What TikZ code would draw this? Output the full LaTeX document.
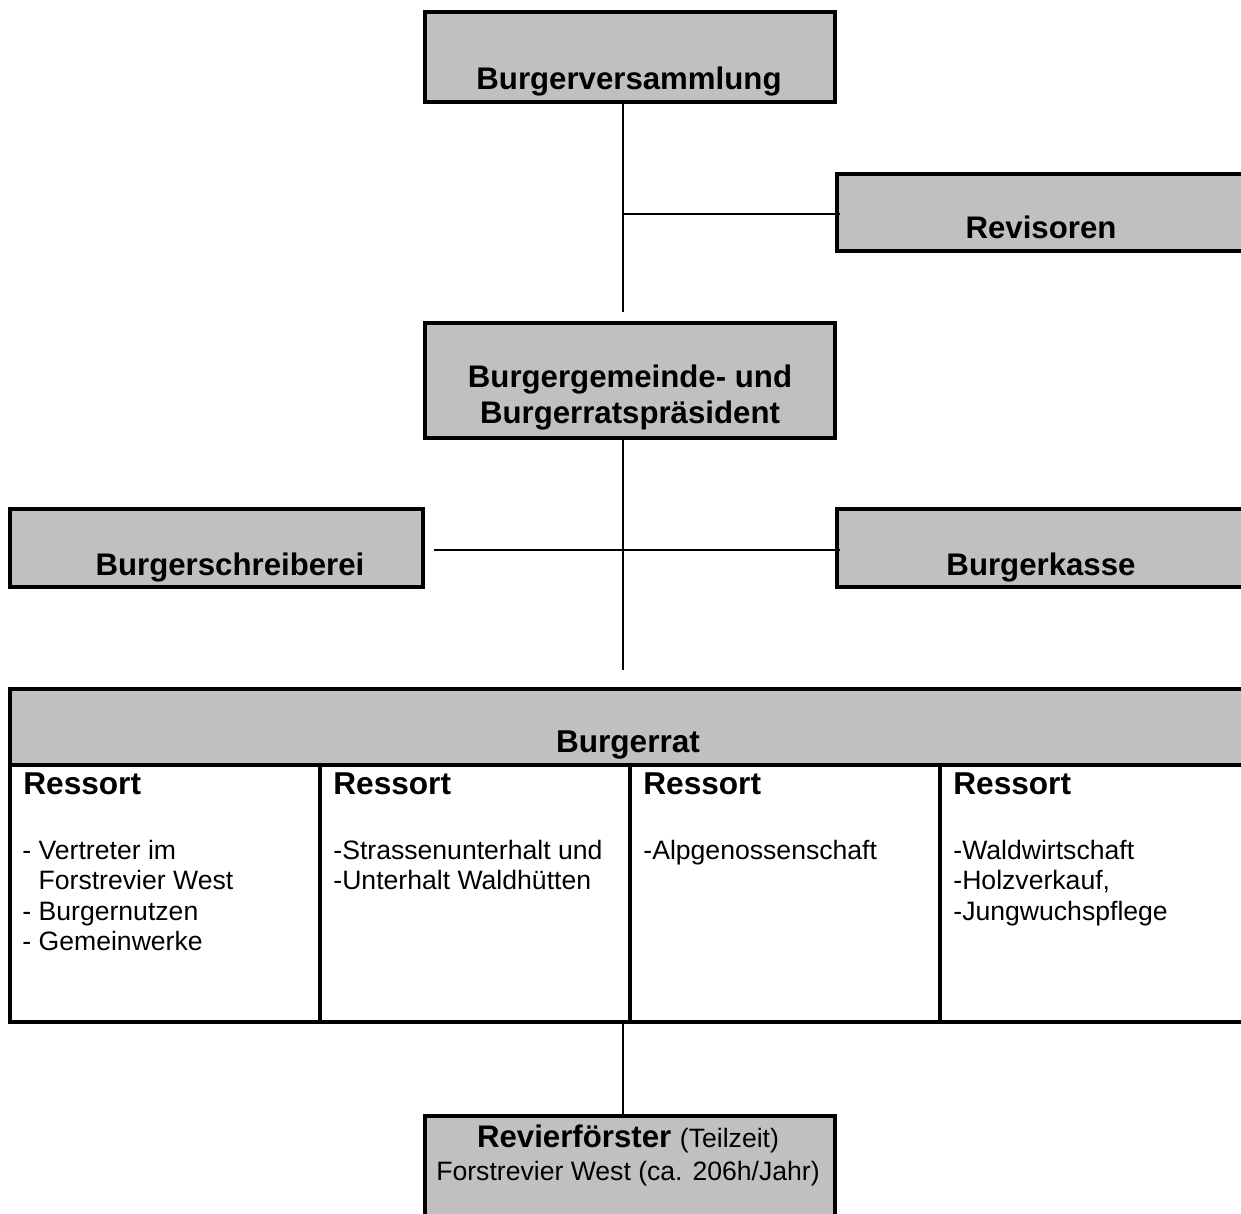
\documentclass[tikz,border=0pt]{standalone}
\usepackage{fontspec}
\setmainfont{Liberation Sans}
\usetikzlibrary{calc}
\definecolor{boxgray}{HTML}{C0C0C0}
\begin{document}
\begin{tikzpicture}[x=0.5pt,y=-0.5pt,
  box/.style={draw=black,line width=1.8pt,fill=boxgray,rectangle,inner sep=0pt,anchor=north west},
  cell/.style={draw=black,line width=1.8pt,fill=white,rectangle,inner sep=0pt,anchor=north west,minimum width=155pt,minimum height=128.5pt},
  conn/.style={draw=black,line width=0.75pt},
  title/.style={font=\fontsize{15.6}{18}\selectfont\bfseries,inner sep=0pt,anchor=base},
  body/.style={font=\fontsize{13.3}{15.25}\selectfont,inner sep=0pt,anchor=base west},
  btitle/.style={font=\fontsize{15.8}{18}\selectfont\bfseries,inner sep=0pt,anchor=base west},
]
\useasboundingbox (0,0) rectangle (1241,1214);
\begin{scope}
\clip (0,0) rectangle (1241,1214);
% spine coordinates
\coordinate (sp) at (623,0);
\coordinate (c1) at (623,312);
\coordinate (c2) at (623,670);
\coordinate (j1) at (623,214);
\coordinate (j2) at (623,550);

% boxes
\node[box,minimum width=205pt,minimum height=45pt] (bv) at (423,10) {};
\node[box,minimum width=205pt,minimum height=38.5pt] (rev) at (835,172) {};
\node[box,minimum width=205pt,minimum height=57.5pt] (bgp) at (423,321) {};
\node[box,minimum width=206.5pt,minimum height=39pt] (bs) at (8,507) {};
\node[box,minimum width=205pt,minimum height=39pt] (bk) at (835,507) {};
\node[box,minimum width=620pt,minimum height=38pt] (br) at (8,687) {};
\node[cell] (col1) at (8,763) {};
\node[cell] (col2) at (318,763) {};
\node[cell] (col3) at (628,763) {};
\node[cell] (col4) at (938,763) {};
\node[box,minimum width=205pt,minimum height=65pt] (rf) at (423,1114) {};

% connectors
\draw[conn] (bv.south -| sp) -- (c1);
\draw[conn] (j1) -- ([xshift=2.5pt]j1 -| rev.west);
\draw[conn] (bgp.south -| sp) -- (c2);
\draw[conn] ([xshift=4.5pt]j2 -| bs.east) -- ([xshift=2.5pt]j2 -| bk.west);
\draw[conn] (col2.south east -| sp) -- (rf.north -| sp);

% titles
\node[title] (tbv) at (629,90) {Burgerversammlung};
\node[title] (trev) at (1041,239) {Revisoren};
\node[title] (tbgp1) at (630,387) {Burgergemeinde- und};
\node[title] (tbgp2) at (630,423) {Burgerratspräsident};
\node[title] (tbs) at (230,575) {Burgerschreiberei};
\node[title] (tbk) at (1041,575) {Burgerkasse};
\node[title,font=\fontsize{15.8}{18}\selectfont\bfseries] (tbr) at (628,752) {Burgerrat};

% Ressort headings
\node[btitle] (rs1) at (23,794) {Ressort};
\node[btitle] (rs2) at (333,794) {Ressort};
\node[btitle] (rs3) at (643,794) {Ressort};
\node[btitle] (rs4) at (953,794) {Ressort};

% column items
\node[body] (a1) at (22,859) {- Vertreter im};
\node[body] (a2) at (22,889) {\phantom{- }Forstrevier West};
\node[body] (a3) at (22,920) {- Burgernutzen};
\node[body] (a4) at (22,950) {- Gemeinwerke};
\node[body] (b1) at (333,859) {-Strassenunterhalt und};
\node[body] (b2) at (333,889) {-Unterhalt Waldhütten};
\node[body] (c1t) at (643,859) {-Alpgenossenschaft};
\node[body] (d1) at (953,859) {-Waldwirtschaft};
\node[body] (d2) at (953,889) {-Holzverkauf,};
\node[body] (d3) at (953,920) {-Jungwuchspflege};

% Revierfoerster
\node[inner sep=0pt,anchor=base] (rf1) at (628,1147) {\fontsize{15.6}{18}\selectfont\bfseries Revierförster \fontsize{13.3}{15.25}\selectfont\mdseries (Teilzeit)};
\node[inner sep=0pt,anchor=base,font=\fontsize{13.3}{15.25}\selectfont] (rf2) at (628,1180) {Forstrevier West (ca. 206h/Jahr)};
\end{scope}
\end{tikzpicture}
\end{document}
